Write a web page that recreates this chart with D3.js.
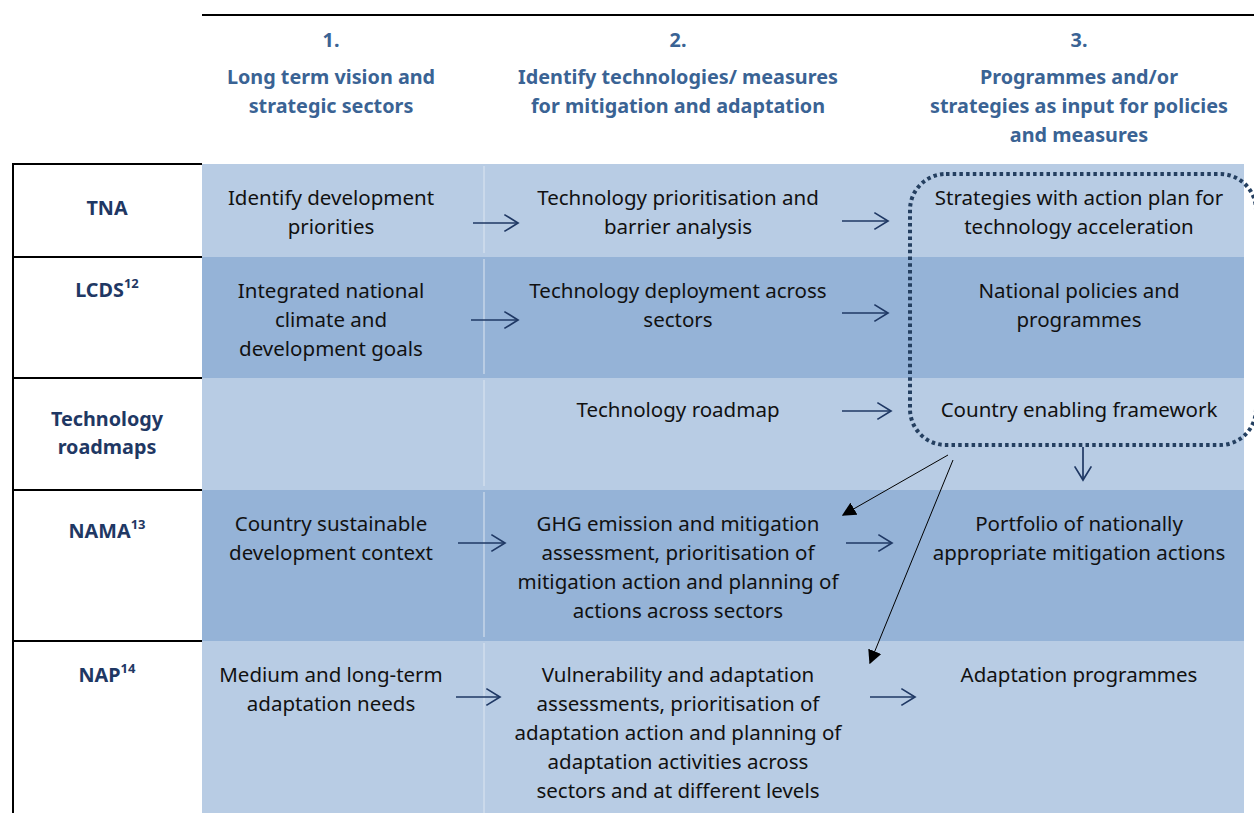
<!DOCTYPE html>
<html>
<head>
<meta charset="utf-8">
<script src="https://cdn.jsdelivr.net/npm/d3@7"></script>
<style>
  body { margin: 0; background: #fff; }
  text { font-family: "Noto Sans", "Open Sans", sans-serif; }
</style>
</head>
<body>
<svg id="chart" width="1254" height="813"></svg>
<script>
// column headers
const colNumbers = ["1.", "2.", "3."];
const colTitles = [
  ["Long term vision and", "strategic sectors"],
  ["Identify technologies/ measures", "for mitigation and adaptation"],
  ["Programmes and/or", "strategies as input for policies", "and measures"]
];

// row labels (name, footnote)
const rowNames = [["TNA"], ["LCDS"], ["Technology", "roadmaps"], ["NAMA"], ["NAP"]];
const rowNotes = ["", "12", "", "13", "14"];

// cell texts, one list per column
const col1Cells = [
  ["Identify development", "priorities"],
  ["Integrated national", "climate and", "development goals"],
  [],
  ["Country sustainable", "development context"],
  ["Medium and long-term", "adaptation needs"]
];
const col2Cells = [
  ["Technology prioritisation and", "barrier analysis"],
  ["Technology deployment across", "sectors"],
  ["Technology roadmap"],
  ["GHG emission and mitigation", "assessment, prioritisation of", "mitigation action and planning of", "actions across sectors"],
  ["Vulnerability and adaptation", "assessments, prioritisation of", "adaptation action and planning of", "adaptation activities across", "sectors and at different levels"]
];
const col3Cells = [
  ["Strategies with action plan for", "technology acceleration"],
  ["National policies and", "programmes"],
  ["Country enabling framework"],
  ["Portfolio of nationally", "appropriate mitigation actions"],
  ["Adaptation programmes"]
];
// which rows have an arrow 1->2 and 2->3
const arrows12 = [true, true, false, true, true];
const arrows23 = [true, true, true, true, true];

// ---- layout ----
const svg = d3.select("#chart");
const rowEdges = [164, 257, 378, 490, 641, 813];
const labelOffset = [44, 33, 41, 41, 34];
const arrow12Offset = [59, 63, 0, 53, 56];
const arrow23Offset = [57, 56, 33, 53, 56];
const arrow12X = [[473, 518], [471, 518], null, [458, 505], [456, 500]];
const arrow23X = [[842, 888], [842, 888], [842, 891], [846, 892], [870, 915]];

const colX = d3.scaleOrdinal().domain([0, 1, 2]).range([331, 678, 1079]);
const rowIdx = d3.range(rowNames.length);
const lineH = 29;
const navy = "#1f3864";
const headBlue = "#3a6394";
const light = "#b8cce4", dark = "#95b3d7";
const bodySize = 20.5, boldSize = 19.8;

// top rule
svg.append("line").attr("x1", 202).attr("x2", 1254).attr("y1", 15).attr("y2", 15)
  .attr("stroke", "#000").attr("stroke-width", 2);

// headers
colNumbers.forEach((n, i) => {
  svg.append("text").attr("x", colX(i)).attr("y", 40).attr("dy", "0.35em")
    .attr("text-anchor", "middle").attr("font-weight", "bold").attr("font-size", boldSize)
    .attr("fill", headBlue).text(n);
  colTitles[i].forEach((t, j) => {
    svg.append("text").attr("x", colX(i)).attr("y", 77 + j * lineH).attr("dy", "0.35em")
      .attr("text-anchor", "middle").attr("font-weight", "bold").attr("font-size", boldSize)
      .attr("fill", headBlue).text(t);
  });
});

// row bands
svg.selectAll("rect.band").data(rowIdx).join("rect")
  .attr("class", "band")
  .attr("x", 202).attr("width", 1042)
  .attr("y", i => rowEdges[i]).attr("height", i => rowEdges[i + 1] - rowEdges[i])
  .attr("fill", i => i % 2 ? dark : light);

// faint column separator
rowIdx.forEach(i => {
  svg.append("line").attr("x1", 484).attr("x2", 484)
    .attr("y1", rowEdges[i] + 2).attr("y2", rowEdges[i + 1] - (i === 4 ? 0 : 4))
    .attr("stroke", "#dde6f1").attr("stroke-width", 1);
});

// left column borders
svg.append("line").attr("x1", 13).attr("x2", 13).attr("y1", 164).attr("y2", 813)
  .attr("stroke", "#000").attr("stroke-width", 2);
rowEdges.slice(0, 5).forEach(y => {
  svg.append("line").attr("x1", 12).attr("x2", 202).attr("y1", y).attr("y2", y)
    .attr("stroke", "#000").attr("stroke-width", 2);
});

// row labels
rowIdx.forEach(i => {
  rowNames[i].forEach((t, j) => {
    const tx = svg.append("text").attr("x", 107).attr("y", rowEdges[i] + labelOffset[i] + j * 28)
      .attr("dy", "0.35em").attr("text-anchor", "middle").attr("font-weight", "bold")
      .attr("font-size", boldSize).attr("fill", navy);
    tx.append("tspan").text(t);
    if (rowNotes[i]) {
      tx.append("tspan").attr("font-size", 13).attr("dy", "-0.65em").text(rowNotes[i]);
    }
  });
});

// cell texts
[col1Cells, col2Cells, col3Cells].forEach((cells, c) => {
  cells.forEach((lines, i) => {
    lines.forEach((t, j) => {
      svg.append("text").attr("x", colX(c)).attr("y", rowEdges[i] + 34 + j * lineH - (i === 2 ? 2 : 0))
        .attr("dy", "0.35em").attr("text-anchor", "middle").attr("font-size", bodySize)
        .attr("fill", "#111").text(t);
    });
  });
});

// open arrows
function openArrow(x1, y1, x2, y2) {
  const g = svg.append("g").attr("stroke", navy).attr("stroke-width", 1.7).attr("fill", "none");
  g.append("line").attr("x1", x1).attr("y1", y1).attr("x2", x2).attr("y2", y2);
  const a = Math.atan2(y2 - y1, x2 - x1), L = 16, w = 0.55;
  g.append("path").attr("d", d3.line()([
    [x2 - L * Math.cos(a - w), y2 - L * Math.sin(a - w)],
    [x2, y2],
    [x2 - L * Math.cos(a + w), y2 - L * Math.sin(a + w)]
  ]));
}
rowIdx.forEach(i => {
  if (arrows12[i]) {
    const y = rowEdges[i] + arrow12Offset[i];
    openArrow(arrow12X[i][0], y, arrow12X[i][1], y);
  }
  if (arrows23[i]) {
    const y = rowEdges[i] + arrow23Offset[i];
    openArrow(arrow23X[i][0], y, arrow23X[i][1], y);
  }
});

// dotted rounded box round column 3 of first three rows
svg.append("rect").attr("x", 910).attr("y", 174).attr("width", 346).attr("height", 271)
  .attr("rx", 36).attr("fill", "none").attr("stroke", "#243f60")
  .attr("stroke-width", 4).attr("stroke-dasharray", "3.5 3.2");

// down arrow from box
openArrow(1083, 447, 1083, 480);

// thin black arrows with filled heads
const defs = svg.append("defs");
defs.append("marker").attr("id", "tri").attr("viewBox", "0 0 10 10")
  .attr("refX", 9).attr("refY", 5).attr("markerWidth", 14).attr("markerHeight", 14)
  .attr("markerUnits", "userSpaceOnUse").attr("orient", "auto")
  .append("path").attr("d", "M0,0L10,5L0,10Z").attr("fill", "#000");
svg.append("line").attr("x1", 948).attr("y1", 455).attr("x2", 843).attr("y2", 515)
  .attr("stroke", "#000").attr("stroke-width", 1).attr("marker-end", "url(#tri)");
svg.append("line").attr("x1", 953).attr("y1", 460).attr("x2", 870).attr("y2", 663)
  .attr("stroke", "#000").attr("stroke-width", 1).attr("marker-end", "url(#tri)");
</script>
</body>
</html>
